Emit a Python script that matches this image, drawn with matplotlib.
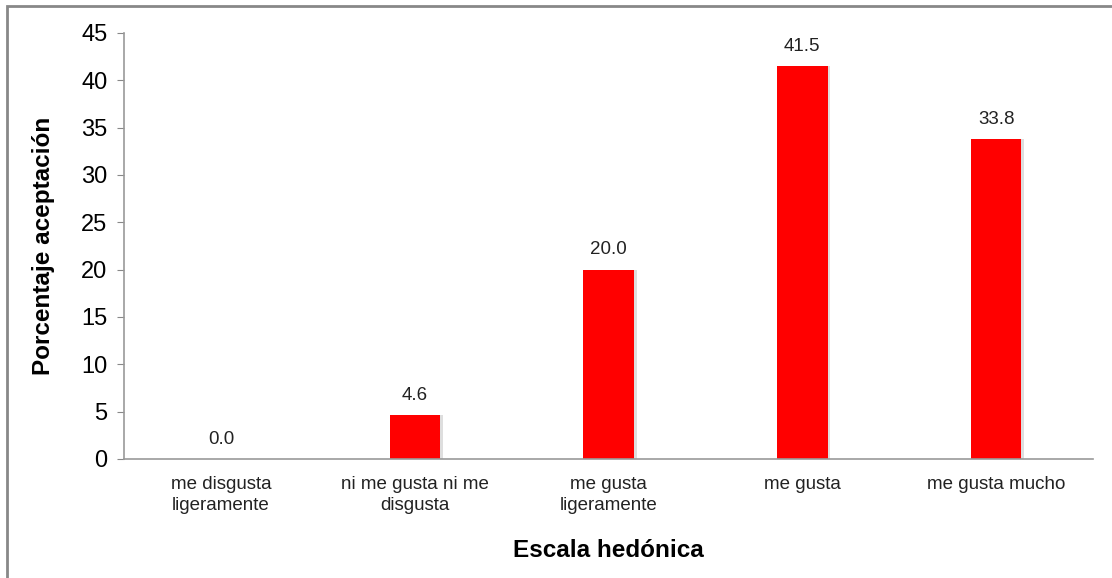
"""Bar chart: acceptance percentage per hedonic scale level."""

import matplotlib

matplotlib.use("Agg")
import matplotlib.pyplot as plt
from matplotlib.patches import Rectangle

categories = [
    "me disgusta\nligeramente",
    "ni me gusta ni me\ndisgusta",
    "me gusta\nligeramente",
    "me gusta",
    "me gusta mucho",
]
percentages = [0.0, 4.6, 20.0, 41.5, 33.8]
y_ticks = [0, 5, 10, 15, 20, 25, 30, 35, 40, 45]

plt.rcParams["font.family"] = ["Liberation Sans", "DejaVu Sans"]

fig = plt.figure(figsize=(11.12, 5.78), dpi=100)
ax = fig.add_axes([0.1115, 0.206, 0.8715, 0.737])

x = range(len(categories))

# soft shadow behind the bars, like the original
ax.bar([i + 0.012 for i in x], percentages, width=0.265, color="#c8c8c8",
       alpha=0.6, zorder=1)
bars = ax.bar(x, percentages, width=0.26, color="#ff0000", zorder=2)

for bar, val in zip(bars, percentages):
    ax.annotate(
        f"{val:.1f}",
        (bar.get_x() + bar.get_width() / 2, bar.get_height()),
        xytext=(0, 8),
        textcoords="offset points",
        ha="center",
        va="bottom",
        fontsize=13.5,
        color="#222222",
    )

ax.set_xlim(-0.5, len(categories) - 0.5)
ax.set_ylim(0, 45)
ax.set_yticks(y_ticks)
ax.set_xticks(list(x))
ax.set_xticklabels(categories, fontsize=13.5, color="#222222", linespacing=1.35)
ax.tick_params(axis="y", labelsize=17, length=5, color="#888888", pad=7)
ax.tick_params(axis="x", length=0, pad=12)

for side in ("top", "right"):
    ax.spines[side].set_visible(False)
for side in ("left", "bottom"):
    ax.spines[side].set_color("#999999")
    ax.spines[side].set_linewidth(1.2)

ax.set_ylabel("Porcentaje aceptación", fontsize=17.5, fontweight="bold", labelpad=19)
ax.set_xlabel("Escala hedónica", fontsize=17.5, fontweight="bold", labelpad=18)

# outer frame of the chart area
fig.patches.append(
    Rectangle((7 / 1112, -0.05), 1.2, 1 - 6 / 578 + 0.05,
              transform=fig.transFigure, fill=False,
              edgecolor="#888888", linewidth=2)
)

plt.savefig("out.png", dpi=100)
plt.close()
